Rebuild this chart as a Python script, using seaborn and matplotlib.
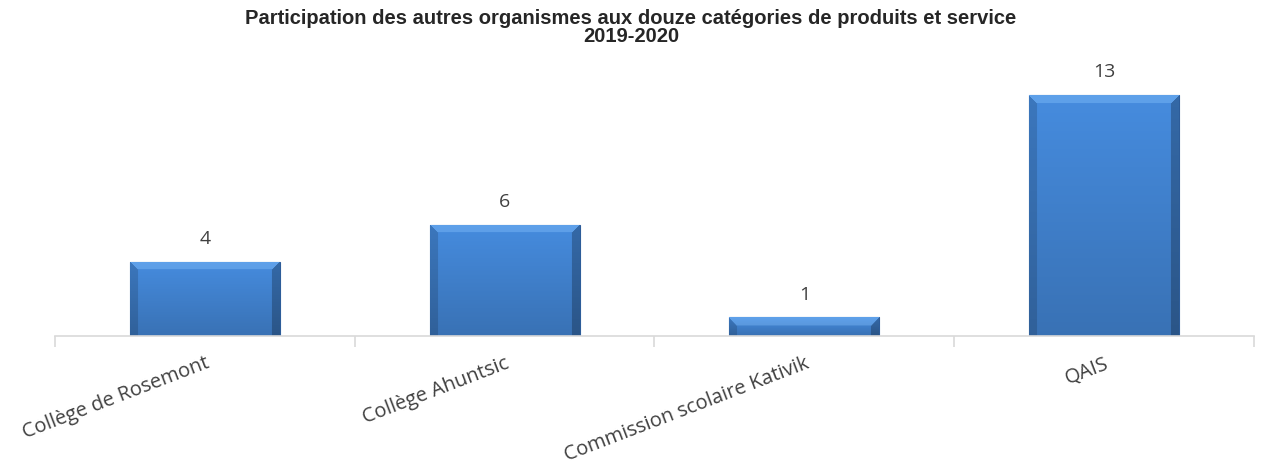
import numpy as np
import pandas as pd
import matplotlib
matplotlib.use("Agg")
import matplotlib.pyplot as plt
import seaborn as sns

# --- données --- #
organismes = ["Collège de Rosemont", "Collège Ahuntsic", "Commission scolaire Kativik", "QAIS"]
participations = [4, 6, 1, 13]
titre = "Participation des autres organismes aux douze catégories de produits et service\n2019-2020"

df = pd.DataFrame({"Organisme": organismes, "Participations": participations})

sns.set_style("white")
plt.rcParams["font.family"] = ["Open Sans", "DejaVu Sans"]

fig = plt.figure(figsize=(12.62, 4.64), dpi=100)
ax = fig.add_axes([0.0436, 0.274, 0.950, 0.575])

sns.barplot(data=df, x="Organisme", y="Participations", color="#3f80cc",
            width=0.5, ax=ax, saturation=1)

ax.set_xlim(-0.5, len(organismes) - 0.5)
ax.set_ylim(0, 14.4)

# effet biseauté façon Excel
def bevel_image(w, h, b=8):
    yy, xx = np.mgrid[0:h, 0:w]
    base = np.array([0x42, 0x84, 0xd2]) / 255
    t = yy / max(h - 1, 1)
    img = np.zeros((h, w, 3))
    for c in range(3):
        img[..., c] = base[c] * (1.06 - 0.2 * t)
    top = yy < b
    left = (xx < b) & (~top | (xx < yy))
    right = (xx >= w - b) & (~top | (w - 1 - xx < yy))
    top = top & ~left & ~right
    img[top] = img[top] * 0.65 + np.array([0.55, 0.78, 1.0]) * 0.35
    img[left] = img[left] * 0.85
    img[right] = img[right] * 0.75
    return np.clip(img, 0, 1)

fig.canvas.draw()
for patch in ax.patches:
    bb = patch.get_window_extent()
    w, h = max(int(bb.width), 2), max(int(bb.height), 2)
    x0, y0 = patch.get_x(), patch.get_y()
    im = ax.imshow(bevel_image(w, h, b=min(8, h // 2)), origin="upper", aspect="auto",
                   extent=(x0, x0 + patch.get_width(), y0, y0 + patch.get_height()),
                   zorder=patch.get_zorder() + 0.1, interpolation="bilinear")
    im.set_clip_path(patch)
    patch.set_edgecolor("#2d5c99")
    patch.set_linewidth(0.8)
ax.set_xlim(-0.5, len(organismes) - 0.5)
ax.set_ylim(0, 14.4)

# étiquettes de valeurs
for i, v in enumerate(participations):
    ax.text(i, v + 0.8, str(v), ha="center", va="bottom", fontsize=14, color="#404040")

# axes
for s in ["top", "right", "left"]:
    ax.spines[s].set_visible(False)
ax.spines["bottom"].set_color("#d9d9d9")
ax.spines["bottom"].set_linewidth(1.2)
ax.set_yticks([])
ax.set_xlabel("")
ax.set_ylabel("")

ax.set_xticks(np.arange(len(organismes)))
ax.set_xticklabels(organismes, rotation=21, ha="right", rotation_mode="anchor",
                   fontsize=14.5, color="#404040")
ax.tick_params(axis="x", length=0, pad=12)
ax.set_xticks(np.arange(len(organismes) + 1) - 0.5, minor=True)
ax.tick_params(axis="x", which="minor", length=8, width=1.2, color="#d9d9d9", bottom=True)

fig.suptitle(titre, y=0.98, fontsize=14.5, fontweight="bold",
             family=["Liberation Sans", "DejaVu Sans"], linespacing=0.92)

fig.savefig("out.png", dpi=100)
